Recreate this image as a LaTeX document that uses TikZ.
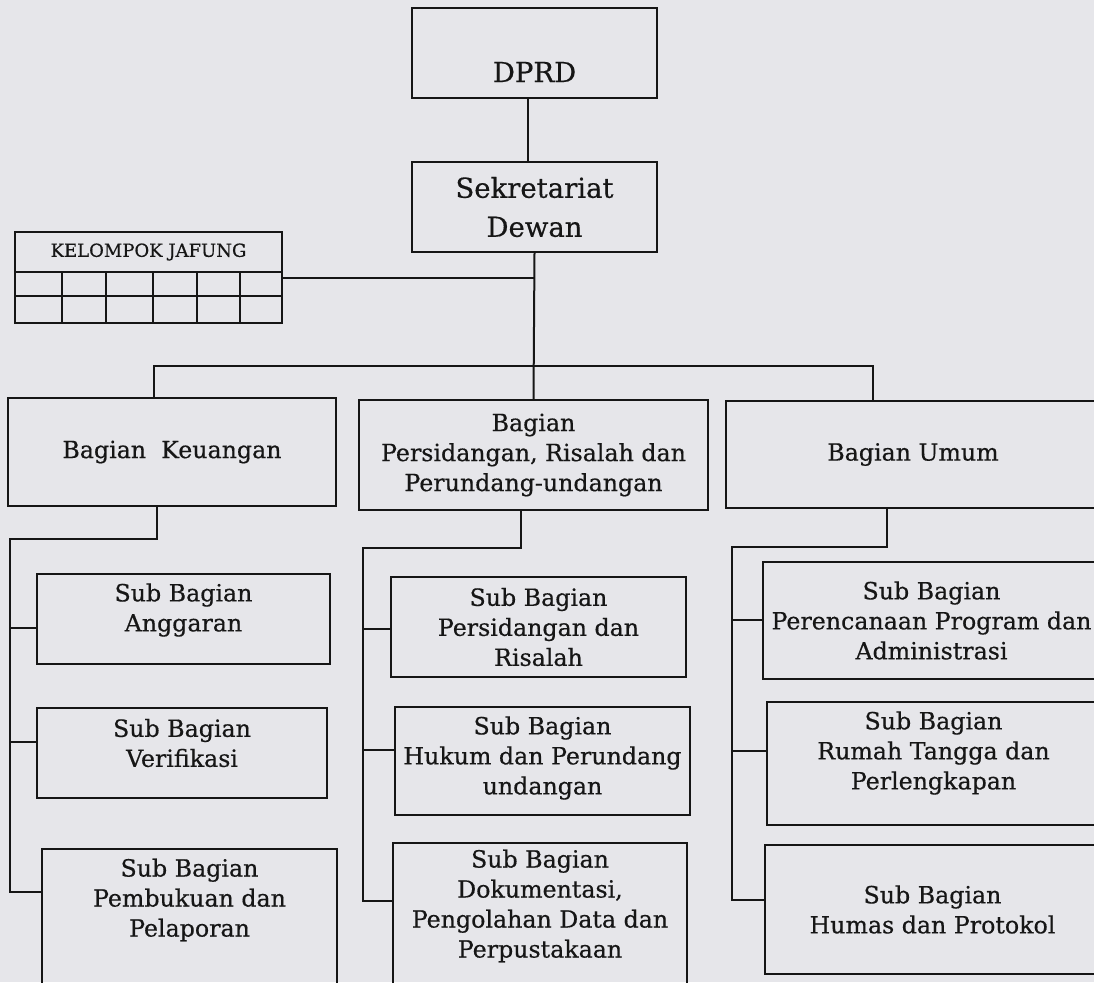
\documentclass[tikz,border=0pt]{standalone}
\usepackage{fontspec}
\setmainfont[FakeBold=0.5]{DejaVu Serif}
\definecolor{paper}{RGB}{230,230,234}
\definecolor{ink}{RGB}{22,22,22}
\begin{document}
\begin{tikzpicture}[x=1pt,y=-1pt,
  box/.style={draw=ink, line width=2pt, rectangle, inner sep=0pt, align=center,
              font=\fontsize{23.7}{30}\selectfont, text=ink},
  lbl/.style={align=center, inner sep=0pt, font=\fontsize{23.7}{30}\selectfont, text=ink},
  big/.style={font=\fontsize{27.5}{39}\selectfont},
  conn/.style={draw=ink, line width=2pt},
  grid/.style={draw=ink, line width=1.8pt}]
\useasboundingbox (0,0) rectangle (1094,982);
\fill[paper] (0,0) rectangle (1094,982);
\clip (0,0) rectangle (1094,982);

% top
\node[box, minimum width=245pt, minimum height=90pt] (dprd) at (534.5,53) {};
\node[lbl, big] (dprdt) at (534.5,72) {DPRD};
\node[box, big, minimum width=245pt, minimum height=90pt] (sek) at (534.5,207) {Sekretariat\\Dewan};

% kelompok jafung
\node[box, minimum width=267pt, minimum height=91pt, line width=1.8pt] (kj) at (148.5,277.5) {};
\node[lbl, font=\fontsize{18}{20}\selectfont] (kjt) at (148.5,252) {KELOMPOK JAFUNG};
\coordinate (kh) at (15,272);
\coordinate (km) at (15,296);
\draw[grid] (kh) -- (kh -| kj.east);
\draw[grid] (km) -- (km -| kj.east);
\foreach \xx in {62,106,153,197,240}{
  \draw[grid] (\xx,272) -- (\xx,323);
}

% bagian
\node[box, minimum width=328pt, minimum height=108pt] (keu) at (172,452) {Bagian~ Keuangan};
\node[box, minimum width=349pt, minimum height=110pt] (bps) at (533.5,455) {Bagian\\Persidangan, Risalah dan\\Perundang-undangan};
\node[box, minimum width=374pt, minimum height=107pt] (umum) at (913,454.5) {Bagian Umum};

% sub bagian left
\node[box, minimum width=293pt, minimum height=90pt] (ang) at (183.5,619) {};
\node[lbl] (angt) at (183.5,610) {Sub Bagian\\Anggaran};
\node[box, minimum width=290pt, minimum height=90pt] (ver) at (182,753) {};
\node[lbl] (vert) at (182,743) {Sub Bagian\\Verifikasi};
\node[box, minimum width=295pt, minimum height=151pt] (pem) at (189.5,924.5) {};
\node[lbl] (pemt) at (189.5,900) {Sub Bagian\\Pembukuan dan\\Pelaporan};

% sub bagian middle
\node[box, minimum width=295pt, minimum height=100pt] (sps) at (538.5,627) {Sub Bagian\\Persidangan dan\\Risalah};
\node[box, minimum width=295pt, minimum height=108pt] (huk) at (542.5,761) {};
\node[lbl] (hukt) at (542.5,758) {Sub Bagian\\Hukum dan Perundang\\undangan};
\node[box, minimum width=294pt, minimum height=157pt] (dok) at (540,921.5) {};
\node[lbl] (dokt) at (540,906) {Sub Bagian\\Dokumentasi,\\Pengolahan Data dan\\Perpustakaan};

% sub bagian right
\node[box, minimum width=337pt, minimum height=117pt] (per) at (931.5,620.5) {Sub Bagian\\Perencanaan Program dan\\Administrasi};
\node[box, minimum width=333pt, minimum height=123pt] (rum) at (933.5,763.5) {};
\node[lbl] (rumt) at (933.5,753) {Sub Bagian\\Rumah Tangga dan\\Perlengkapan};
\node[box, minimum width=335pt, minimum height=129pt] (hum) at (932.5,909.5) {Sub Bagian\\Humas dan Protokol};

% top connectors
\draw[conn] ([xshift=-7pt]dprd.south) -- ([xshift=-7pt]sek.north);
\draw[conn] (sek.south) -- (bps.north);
\draw[conn] (kj.east) -- (kj.east -| sek.south);

% bus
\coordinate (busL) at (154,366);
\coordinate (busR) at (873,366);
\draw[conn] (keu.north -| busL) -- (busL) -- (busR) -- (umum.north -| busR);

% left trunk
\coordinate (lk) at (157,539);
\coordinate (lt) at (10,539);
\coordinate (l1) at (10,628);
\coordinate (l2) at (10,742);
\coordinate (l3) at (10,892);
\draw[conn] (keu.south -| lk) -- (lk) -- (lt) -- (l3) -- (l3 -| pem.west);
\draw[conn] (l1) -- (l1 -| ang.west);
\draw[conn] (l2) -- (l2 -| ver.west);

% middle trunk
\coordinate (mk) at (521,548);
\coordinate (mt) at (363,548);
\coordinate (m1) at (363,629);
\coordinate (m2) at (363,750);
\coordinate (m3) at (363,901);
\draw[conn] (bps.south -| mk) -- (mk) -- (mt) -- (m3) -- (m3 -| dok.west);
\draw[conn] (m1) -- (m1 -| sps.west);
\draw[conn] (m2) -- (m2 -| huk.west);

% right trunk
\coordinate (rk) at (887,547);
\coordinate (rt) at (732,547);
\coordinate (r1) at (732,620);
\coordinate (r2) at (732,751);
\coordinate (r3) at (732,900);
\draw[conn] (umum.south -| rk) -- (rk) -- (rt) -- (r3) -- (r3 -| hum.west);
\draw[conn] (r1) -- (r1 -| per.west);
\draw[conn] (r2) -- (r2 -| rum.west);
\end{tikzpicture}
\end{document}
